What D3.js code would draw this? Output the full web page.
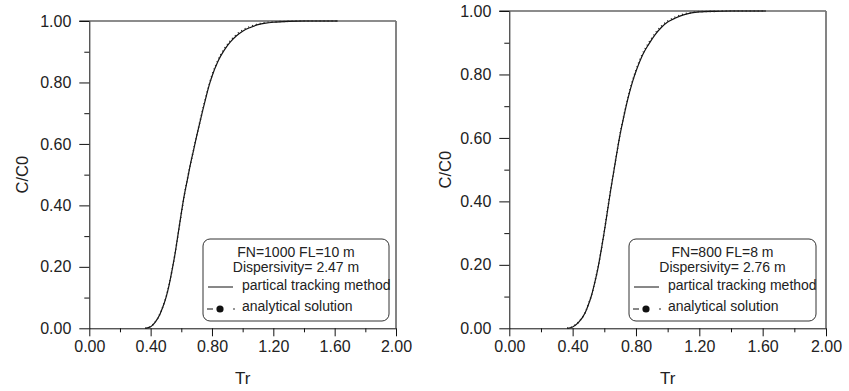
<!DOCTYPE html>
<html>
<head>
<meta charset="utf-8">
<script src="https://cdn.jsdelivr.net/npm/d3@7"></script>
<style>
  body { margin: 0; background: #fff; }
  svg { display: block; font-family: "Liberation Sans", Arial, sans-serif; }
</style>
</head>
<body>
<svg id="chart" width="849" height="391"></svg>
<script>
// tick values
const xMajorTicks = [0, 0.4, 0.8, 1.2, 1.6, 2.0];
const xMinorTicks = [0.2, 0.6, 1.0, 1.4, 1.8];
const yMajorTicks = [0, 0.2, 0.4, 0.6, 0.8, 1.0];
const yMinorTicks = [0.1, 0.3, 0.5, 0.7, 0.9];

// left panel: FN=1000 FL=10 m
const trLeft  = [0.365, 0.40, 0.43, 0.46, 0.48, 0.50, 0.52, 0.54, 0.56, 0.58, 0.60, 0.62, 0.64, 0.66, 0.68, 0.70, 0.72, 0.74, 0.76, 0.78, 0.80, 0.84, 0.88, 0.92, 0.96, 1.00, 1.05, 1.10, 1.15, 1.20, 1.30, 1.40, 1.62];
const ptmLeft = [0.000, 0.005, 0.020, 0.045, 0.070, 0.100, 0.140, 0.190, 0.245, 0.310, 0.375, 0.435, 0.485, 0.535, 0.580, 0.625, 0.668, 0.710, 0.750, 0.788, 0.820, 0.870, 0.905, 0.932, 0.952, 0.967, 0.979, 0.988, 0.993, 0.996, 0.999, 1.000, 1.000];
const anaLeft = [0.000, 0.006, 0.021, 0.046, 0.071, 0.101, 0.141, 0.190, 0.246, 0.309, 0.374, 0.434, 0.486, 0.536, 0.581, 0.626, 0.670, 0.712, 0.752, 0.790, 0.823, 0.873, 0.909, 0.936, 0.956, 0.970, 0.982, 0.990, 0.995, 0.997, 0.999, 1.000, 1.000];

// right panel: FN=800 FL=8 m
const trRight  = [0.365, 0.40, 0.44, 0.48, 0.50, 0.52, 0.54, 0.56, 0.58, 0.60, 0.62, 0.64, 0.66, 0.68, 0.70, 0.72, 0.74, 0.76, 0.78, 0.80, 0.84, 0.88, 0.92, 0.96, 1.00, 1.05, 1.10, 1.15, 1.20, 1.30, 1.40, 1.62];
const ptmRight = [0.000, 0.004, 0.020, 0.050, 0.075, 0.105, 0.145, 0.190, 0.245, 0.305, 0.370, 0.435, 0.495, 0.555, 0.612, 0.660, 0.705, 0.745, 0.780, 0.810, 0.860, 0.895, 0.925, 0.948, 0.965, 0.978, 0.988, 0.994, 0.997, 0.999, 1.000, 1.000];
const anaRight = [0.000, 0.005, 0.021, 0.051, 0.076, 0.106, 0.146, 0.191, 0.246, 0.306, 0.371, 0.436, 0.496, 0.556, 0.613, 0.662, 0.707, 0.748, 0.783, 0.813, 0.864, 0.899, 0.929, 0.952, 0.968, 0.981, 0.990, 0.995, 0.998, 0.999, 1.000, 1.000];

const panels = [
  { left: 89.3, right: 396, top: 21, bottom: 328.3, yTitleX: 22,
    tr: trLeft, ptm: ptmLeft, ana: anaLeft,
    legend: { x: 203, y: 239, w: 186, h: 82 },
    title1: "FN=1000 FL=10 m", title2: "Dispersivity= 2.47 m" },
  { left: 509.3, right: 826, top: 11, bottom: 328.3, yTitleX: 445,
    tr: trRight, ptm: ptmRight, ana: anaRight,
    legend: { x: 629, y: 239, w: 187, h: 82 },
    title1: "FN=800 FL=8 m", title2: "Dispersivity= 2.76 m" }
];

const svg = d3.select("#chart");

function drawPanel(p) {
  const g = svg.append("g");

  const x = d3.scaleLinear().domain([0, 2]).range([p.left, p.right]);
  const y = d3.scaleLinear().domain([0, 1]).range([p.bottom, p.top]);

  // frame top / right (grey)
  g.append("line")
    .attr("x1", p.left - 10).attr("x2", p.right)
    .attr("y1", p.top).attr("y2", p.top)
    .attr("stroke", "#666").attr("stroke-width", 1.4);
  g.append("line")
    .attr("x1", p.right).attr("x2", p.right)
    .attr("y1", p.top).attr("y2", p.bottom)
    .attr("stroke", "#777").attr("stroke-width", 1.8);

  // x axis
  const xMinor = g.append("g")
    .attr("transform", `translate(0,${p.bottom})`)
    .call(d3.axisBottom(x).tickValues(xMinorTicks).tickSize(4).tickSizeOuter(0).tickFormat(""));
  xMinor.select(".domain").remove();

  const xAxis = g.append("g")
    .attr("transform", `translate(0,${p.bottom})`)
    .call(d3.axisBottom(x).tickValues(xMajorTicks).tickSize(8).tickSizeOuter(0)
      .tickPadding(4).tickFormat(d3.format(".2f")));
  xAxis.selectAll("text").style("font-size", "16px").attr("fill", "#222")
    .style("font-family", "Liberation Sans, Arial, sans-serif");

  // y axis
  const yMinor = g.append("g")
    .attr("transform", `translate(${p.left},0)`)
    .call(d3.axisLeft(y).tickValues(yMinorTicks).tickSize(5).tickSizeOuter(0).tickFormat(""));
  yMinor.select(".domain").remove();

  const yAxis = g.append("g")
    .attr("transform", `translate(${p.left},0)`)
    .call(d3.axisLeft(y).tickValues(yMajorTicks).tickSize(10).tickSizeOuter(0)
      .tickPadding(8).tickFormat(d3.format(".2f")));
  yAxis.selectAll("text").style("font-size", "16px").attr("fill", "#222")
    .style("font-family", "Liberation Sans, Arial, sans-serif");

  g.selectAll(".tick line").attr("stroke", "#111");
  g.selectAll(".domain").attr("stroke", "#111");

  // axis titles
  g.append("text")
    .attr("x", (p.left + p.right) / 2).attr("y", 384)
    .attr("text-anchor", "middle")
    .style("font-size", "17px").attr("fill", "#222")
    .text("Tr");
  g.append("text")
    .attr("transform", `translate(${p.yTitleX + 6},${(p.top + p.bottom) / 2}) rotate(-90)`)
    .attr("text-anchor", "middle")
    .style("font-size", "16.5px").attr("fill", "#222")
    .text("C/C0");

  // curves
  const ptmData = p.tr.map((t, i) => [t, p.ptm[i]]);
  const anaData = p.tr.map((t, i) => [t, p.ana[i]]);
  const line = d3.line().x(d => x(d[0])).y(d => y(d[1])).curve(d3.curveMonotoneX);

  g.append("path").datum(ptmData)
    .attr("fill", "none").attr("stroke", "#111").attr("stroke-width", 1.2)
    .attr("d", line);
  g.append("path").datum(anaData)
    .attr("fill", "none").attr("stroke", "#222").attr("stroke-width", 1.6)
    .attr("stroke-dasharray", "1 3")
    .attr("d", line);

  // legend
  const L = p.legend;
  const lg = g.append("g").attr("transform", `translate(${L.x},${L.y})`);
  lg.append("rect")
    .attr("width", L.w).attr("height", L.h).attr("rx", 7)
    .attr("fill", "#fff").attr("stroke", "#333").attr("stroke-width", 1);
  lg.append("text").attr("x", L.w / 2).attr("y", 17.7).attr("text-anchor", "middle")
    .style("font-size", "14px").attr("fill", "#222").text(p.title1);
  lg.append("text").attr("x", L.w / 2).attr("y", 32.7).attr("text-anchor", "middle")
    .style("font-size", "14px").attr("fill", "#222").text(p.title2);

  lg.append("line").attr("x1", 5).attr("x2", 30).attr("y1", 48).attr("y2", 48)
    .attr("stroke", "#111").attr("stroke-width", 1);
  lg.append("text").attr("x", 39).attr("y", 51)
    .style("font-size", "14px").attr("fill", "#222").text("partical tracking method");

  lg.append("line").attr("x1", 4).attr("x2", 10).attr("y1", 70).attr("y2", 70)
    .attr("stroke", "#111").attr("stroke-width", 1);
  lg.append("circle").attr("cx", 17).attr("cy", 70).attr("r", 3.6).attr("fill", "#111");
  lg.append("circle").attr("cx", 31).attr("cy", 70).attr("r", 0.8).attr("fill", "#111");
  lg.append("text").attr("x", 39).attr("y", 72)
    .style("font-size", "14px").attr("fill", "#222").text("analytical solution");
}

panels.forEach(drawPanel);
</script>
</body>
</html>
